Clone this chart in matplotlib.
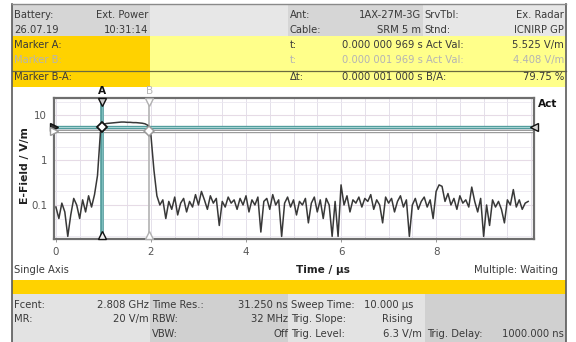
import numpy as np
import matplotlib
matplotlib.use("Agg")
import matplotlib.pyplot as plt
from matplotlib.patches import Rectangle

# ---------------- data ----------------
sample_step_us = 0.0625
efield_vm = [
    0.09, 0.05, 0.11, 0.07, 0.02, 0.06, 0.14, 0.10, 0.05, 0.13, 0.07, 0.16, 0.09, 0.17,
    0.45, 4.2,
    6.2, 6.5, 6.6, 6.7, 6.8, 6.9, 7.0, 7.0, 6.9, 6.9, 6.8, 6.8, 6.7, 6.6, 6.4, 5.9,
    3.5, 0.6,
    0.16, 0.10, 0.13, 0.05, 0.12, 0.08, 0.15, 0.06, 0.11, 0.14,
    0.07, 0.12, 0.09, 0.17, 0.10, 0.20, 0.13, 0.08, 0.16, 0.11,
    0.14, 0.035, 0.12, 0.09, 0.15, 0.11, 0.13, 0.08, 0.14, 0.10,
    0.16, 0.07, 0.13, 0.10, 0.15, 0.025, 0.12, 0.14, 0.08, 0.17,
    0.10, 0.13, 0.02, 0.11, 0.15, 0.09, 0.13, 0.06, 0.12, 0.10,
    0.14, 0.04, 0.11, 0.15, 0.07, 0.13, 0.05, 0.14, 0.10, 0.02,
    0.12, 0.02, 0.28, 0.10, 0.16, 0.07, 0.13, 0.11, 0.15, 0.09,
    0.14, 0.12, 0.17, 0.08, 0.13, 0.10, 0.04, 0.15, 0.11, 0.14,
    0.07, 0.12, 0.16, 0.09, 0.13, 0.02, 0.10, 0.14, 0.08, 0.12,
    0.15, 0.09, 0.13, 0.05, 0.20, 0.28, 0.26, 0.12, 0.18, 0.10,
    0.14, 0.08, 0.16, 0.11, 0.13, 0.09, 0.25, 0.12, 0.07, 0.14,
    0.02, 0.10, 0.035, 0.13, 0.09, 0.12, 0.08, 0.04, 0.13, 0.10,
    0.22, 0.09, 0.13, 0.08, 0.11, 0.12,
]
marker_names = ["A", "B"]
marker_times_us = [0.969, 1.969]
marker_values_vm = [5.525, 4.408]
x_ticks = [0, 2, 4, 6, 8]
y_ticks = [0.1, 1, 10]
y_tick_labels = ["0.1", "1", "10"]

header_left = [("Battery:", "Ext. Power"), ("26.07.19", "10:31:14")]
header_mid = [("Ant:", "1AX-27M-3G"), ("Cable:", "SRM 5 m")]
header_right = [("SrvTbl:", "Ex. Radar"), ("Stnd:", "ICNIRP GP")]
marker_rows = ["Marker A:", "Marker B:", "Marker B-A:"]
marker_t_labels = ["t:", "t:", "\u0394t:"]
marker_t_values = ["0.000 000 969 s", "0.000 001 969 s", "0.000 001 000 s"]
marker_v_labels = ["Act Val:", "Act Val:", "B/A:"]
marker_v_values = ["5.525 V/m", "4.408 V/m", "79.75 %"]

footer_col1 = [("Fcent:", "2.808 GHz"), ("MR:", "20 V/m")]
footer_col2 = [("Time Res.:", "31.250 ns"), ("RBW:", "32 MHz"), ("VBW:", "Off")]
footer_col3 = [("Sweep Time:", "10.000 \u00b5s"), ("Trig. Slope:", "Rising"), ("Trig. Level:", "6.3 V/m")]
footer_col4 = [("", ""), ("", ""), ("Trig. Delay:", "1000.000 ns")]

# ---------------- figure ----------------
W, H = 576, 342
fig = plt.figure(figsize=(W / 100, H / 100), dpi=100)
bg = fig.add_axes([0, 0, 1, 1], zorder=0)
bg.set_xlim(0, W)
bg.set_ylim(H, 0)
bg.axis("off")

FS = 7.2
TXT = "#3a3a3a"
GREYTXT = "#b4b4b4"

def rect(x0, y0, x1, y1, color):
    bg.add_patch(Rectangle((x0, y0), x1 - x0, y1 - y0, facecolor=color, edgecolor="none", zorder=0))

def txt(x, y, s, ha="left", color=TXT, **kw):
    bg.text(x, y, s, ha=ha, va="baseline", fontsize=kw.pop("fs", FS), color=color,
            family="DejaVu Sans", zorder=3, **kw)

# header backgrounds
rect(12, 4, 150, 36, "#d6d6d6")
rect(150, 4, 288, 36, "#e7e7e7")
rect(288, 4, 423, 36, "#d6d6d6")
rect(423, 4, 566, 36, "#e7e7e7")
rect(12, 36, 150, 87, "#ffd200")
rect(150, 36, 566, 87, "#ffff8a")
bg.plot([12, 566], [70.5, 70.5], color="#6a6a40", lw=0.9, zorder=2)

base_hdr = [18, 33]
for i, y in enumerate(base_hdr):
    txt(14, y, header_left[i][0]); txt(148, y, header_left[i][1], ha="right")
    txt(290, y, header_mid[i][0]); txt(421, y, header_mid[i][1], ha="right")
    txt(424, y, header_right[i][0]); txt(564, y, header_right[i][1], ha="right")

base_mk = [48, 63, 80]
for i, y in enumerate(base_mk):
    c = GREYTXT if i == 1 else TXT
    txt(14, y, marker_rows[i], color=c)
    txt(290, y, marker_t_labels[i], color=c)
    txt(423, y, marker_t_values[i], ha="right", color=c)
    txt(426, y, marker_v_labels[i], color=c)
    txt(564, y, marker_v_values[i], ha="right", color=c)

# bottom area
txt(14, 273, "Single Axis")
txt(323, 273, "Time / \u00b5s", ha="center", weight="bold", fs=7.6, color="#222222")
txt(558, 273, "Multiple: Waiting", ha="right")
rect(12, 280, 566, 294, "#ffd200")
rect(12, 294, 150, 342, "#e3e3e3")
rect(150, 294, 288, 342, "#d0d0d0")
rect(288, 294, 425, 342, "#e3e3e3")
rect(425, 294, 566, 342, "#d0d0d0")
base_ft = [308, 322, 337]
for i, (a, b) in enumerate(footer_col1):
    txt(14, base_ft[i], a); txt(149, base_ft[i], b, ha="right")
for i, (a, b) in enumerate(footer_col2):
    txt(152, base_ft[i], a); txt(288, base_ft[i], b, ha="right")
for i, (a, b) in enumerate(footer_col3):
    txt(291, base_ft[i], a); txt(413 if i < 2 else 422, base_ft[i], b, ha="right")
for i, (a, b) in enumerate(footer_col4):
    if a:
        txt(427, base_ft[i], a); txt(564, base_ft[i], b, ha="right")

# outer frame
bg.plot([12, 12], [4, H], color="#5a5a5a", lw=1.2, zorder=4)
bg.plot([566, 566], [4, H], color="#5a5a5a", lw=1.2, zorder=4)
bg.plot([12, 566], [4, 4], color="#8a8a8a", lw=1.0, zorder=4)

# y label and Act
bg.text(25, 166, "E-Field / V/m", rotation=90, ha="center", va="center",
        fontsize=7.8, weight="bold", color="#222222", zorder=3)
txt(538, 107, "Act", weight="bold", fs=7.6, color="#111111")

# ---------------- main plot ----------------
L, R, T, B = 54, 534, 98, 239
ax = fig.add_axes([L / W, 1 - B / H, (R - L) / W, (B - T) / H], zorder=2)
ax.patch.set_alpha(0)
t = np.arange(len(efield_vm)) * sample_step_us
ax.set_yscale("log")
ax.set_xlim(-0.04, 10.06)
ax.set_ylim(0.0175, 24)

# grid
for xv in np.arange(0, 10.01, 0.5):
    ax.axvline(xv, color="#e4e0ea", lw=0.7, zorder=0)
for yv in [0.02, 0.05, 0.2, 0.5, 2, 5, 20]:
    ax.axhline(yv, color="#ebe8f0", lw=0.6, zorder=0)
for yv in y_ticks:
    ax.axhline(yv, color="#e6dbe6", lw=0.8, zorder=0)

teal_dark = "#4e9a9a"
teal_light = "#a8d4d4"
# horizontal marker level lines
ax.axhline(marker_values_vm[0], color=teal_dark, lw=2.4, zorder=2)
ax.axhline(marker_values_vm[0], color=teal_light, lw=0.8, zorder=2)
ax.axhline(marker_values_vm[1], color="#8e8e8e", lw=2.4, zorder=2)
ax.axhline(marker_values_vm[1], color="white", lw=0.9, zorder=2)
# vertical marker lines
ax.axvline(marker_times_us[1], color="#b8b8b8", lw=1.3, zorder=2)
ax.axvline(marker_times_us[0], color=teal_dark, lw=2.6, zorder=2)
ax.axvline(marker_times_us[0], color="#7cbcbc", lw=1.0, zorder=2)

# trace
ax.plot(t, efield_vm, color="#383838", lw=1.1, zorder=3)

# marker symbols
xt = ax.get_xaxis_transform()
ax.plot(marker_times_us[0], marker_values_vm[0], marker="D", ms=5.5, mfc="white",
        mec="#111111", mew=1.3, zorder=5)
ax.plot(marker_times_us[1], marker_values_vm[1], marker="D", ms=5.5, mfc="white",
        mec="#9a9a9a", mew=1.1, zorder=5)
ax.plot(marker_times_us[0], 0.975, marker="v", ms=6, mfc="#d0d0d0", mec="#111111", mew=1.0,
        transform=xt, clip_on=False, zorder=6)
ax.plot(marker_times_us[0], 0.028, marker="^", ms=6, mfc="#f0f0f0", mec="#111111", mew=1.0,
        transform=xt, clip_on=False, zorder=6)
ax.plot(marker_times_us[1], 0.975, marker="v", ms=6, mfc="white", mec="#b0b0b0", mew=1.0,
        transform=xt, clip_on=False, zorder=6)
ax.plot(marker_times_us[1], 0.028, marker="^", ms=6, mfc="white", mec="#b0b0b0", mew=1.0,
        transform=xt, clip_on=False, zorder=6)
xl0, xl1 = ax.get_xlim()
ax.plot(xl0, marker_values_vm[0], marker=">", ms=6, mfc="#333333", mec="#111111",
        clip_on=False, zorder=6)
ax.plot(xl0, marker_values_vm[1], marker=">", ms=6, mfc="white", mec="#9a9a9a",
        clip_on=False, zorder=6)
ax.plot(xl1, marker_values_vm[0], marker="<", ms=6, mfc="#d8d8d8", mec="#111111",
        clip_on=False, zorder=6)
ax.text(marker_times_us[0], 1.05, marker_names[0], transform=xt,
        ha="center", va="center", fontsize=7.6, weight="bold", color="#111111")
ax.text(marker_times_us[1], 1.05, marker_names[1], transform=xt,
        ha="center", va="center", fontsize=7.6, color="#b8b8b8")

# axes styling
for s in ax.spines.values():
    s.set_color("#6e6e6e")
    s.set_linewidth(1.6)
ax.set_xticks(x_ticks)
ax.set_xticklabels([str(v) for v in x_ticks])
ax.set_yticks(y_ticks)
ax.set_yticklabels(y_tick_labels)
ax.yaxis.set_minor_locator(matplotlib.ticker.NullLocator())
ax.tick_params(axis="both", labelsize=7.4, labelcolor="#555555", color="#999999",
               length=2.5, width=0.7, pad=3)
ax.tick_params(axis="y", direction="in", length=0, pad=5)

fig.savefig("out.png", dpi=100)
